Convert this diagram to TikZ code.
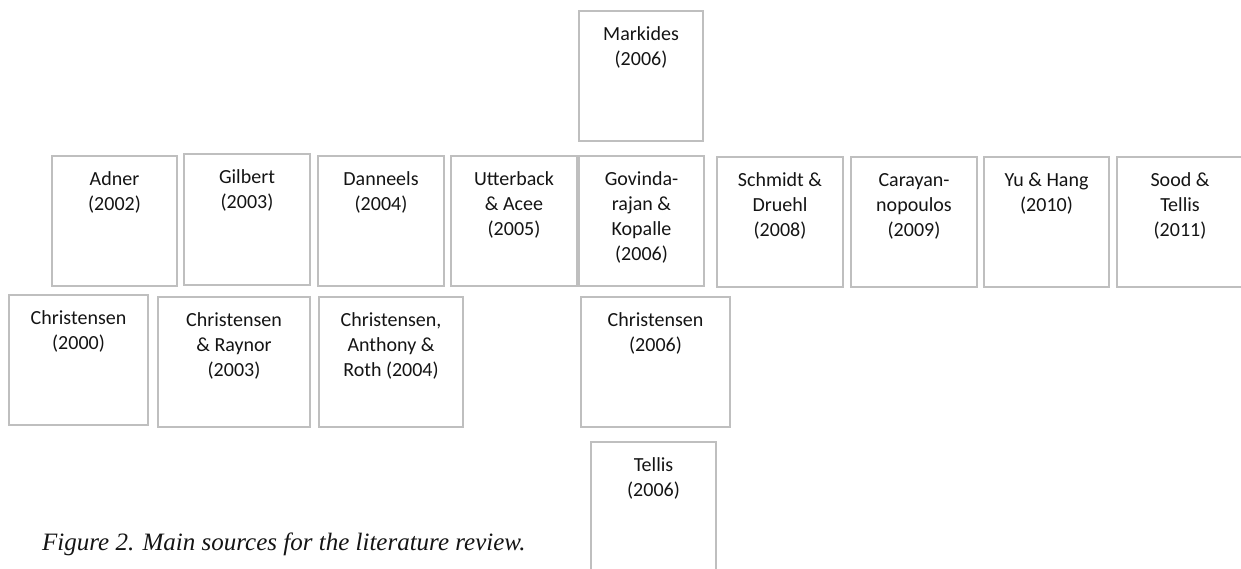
\documentclass[tikz,border=0pt]{standalone}
\usepackage{fontspec}
\setmainfont{Carlito}
\newfontfamily\capfont{Liberation Serif}
\definecolor{frame}{RGB}{191,191,191}
\definecolor{ink}{RGB}{20,20,20}

% one source: name, left, top, right, bottom, text
% (the strut fixes the height of the first line, so its baseline sits 29pt below the top)
\newcommand\srcnode[6]{%
  \node[srcbox, minimum width={#4-#2}, minimum height={#5-#3}] (#1) at (#2,#3) {};
  \node[srctext] (#1-t) at ([yshift=-11.5pt]#1.north) {\strut#6};}

\begin{document}
\begin{tikzpicture}[x=1pt, y=-1pt,
  srcbox/.style={draw=frame, line width=1.2pt, inner sep=0pt, outer sep=0pt, anchor=north west},
  srctext/.style={anchor=north, align=center, inner sep=0pt, text=ink,
                  font=\fontsize{20}{25}\selectfont},
  captext/.style={anchor=base west, inner sep=0pt, text=ink,
                  font=\capfont\itshape\fontsize{25}{30}\selectfont}]
\useasboundingbox (0,0) rectangle (1241,568);
\clip (0,0) rectangle (1241,568);

% top
\srcnode{markides}{579}{11}{703}{141}{Markides\\(2006)}

% middle row
\srcnode{adner}{52}{156}{177}{286}{Adner\\(2002)}
\srcnode{gilbert}{184}{154}{310}{285}{Gilbert\\(2003)}
\srcnode{danneels}{318}{156}{444}{286}{Danneels\\(2004)}
\srcnode{utterback}{451}{156}{577}{286}{Utterback\\\& Acee\\(2005)}
\srcnode{govind}{579}{156}{704}{286}{Govinda-\\rajan \&\\Kopalle\\(2006)}
\srcnode{schmidt}{717}{157}{843}{287}{Schmidt \&\\Druehl\\(2008)}
\srcnode{carayan}{851}{157}{977}{287}{Carayan-\\nopoulos\\(2009)}
\srcnode{yuhang}{984}{157}{1109}{287}{Yu \& Hang\\(2010)}
\srcnode{sood}{1117}{157}{1243}{287}{Sood \&\\Tellis\\(2011)}

% lower row
\srcnode{chr2000}{9}{295}{148}{425}{Christensen\\(2000)}
\srcnode{chrraynor}{158}{297}{310}{427}{Christensen\\\& Raynor\\(2003)}
\srcnode{chranthony}{319}{297}{463}{427}{Christensen,\\Anthony \&\\Roth (2004)}
\srcnode{chr2006}{581}{297}{730}{427}{Christensen\\(2006)}

% bottom
\srcnode{tellis}{591}{442}{716}{572}{Tellis\\(2006)}

\node[captext] (caption) at (42,550) {Figure 2. Main sources for the literature review.};
\end{tikzpicture}
\end{document}
